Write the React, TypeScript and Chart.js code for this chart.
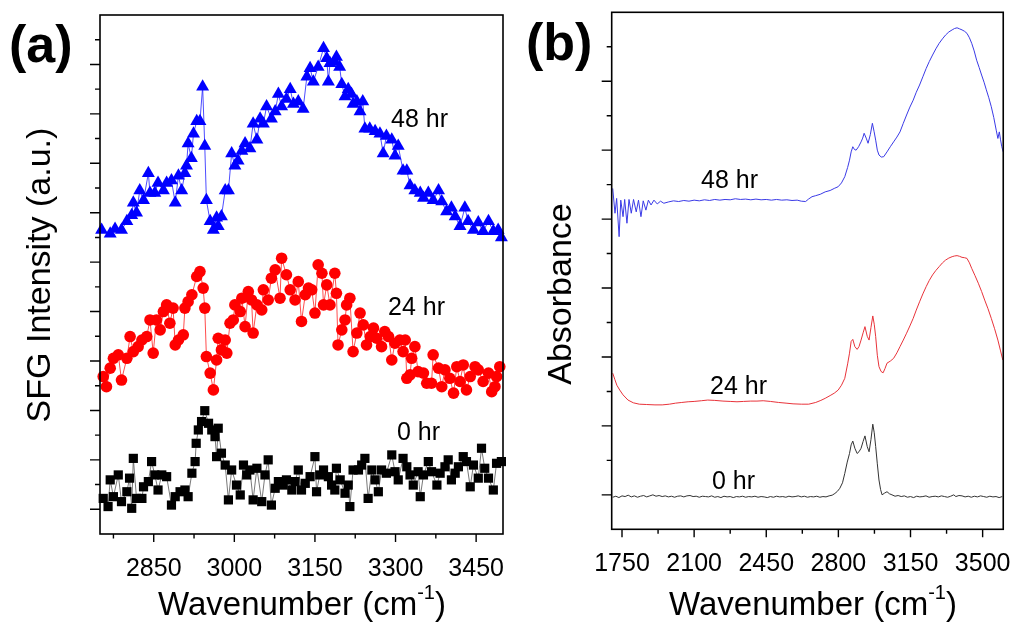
import React, { useEffect, useRef } from "react";
import { Chart, registerables } from "chart.js";

Chart.register(...registerables);

const FONT = "'Liberation Sans', Arial, Helvetica, sans-serif";

// ---------------- Panel (a): SFG spectra ----------------
const SFG_48_WN = [2753, 2769, 2778, 2790, 2800, 2809, 2812, 2818, 2824, 2831, 2840, 2843, 2852, 2858, 2868, 2874, 2883, 2890, 2896, 2902, 2908, 2911, 2914, 2920, 2924, 2930, 2936, 2941, 2945, 2948, 2955, 2961, 2967, 2970, 2976, 2983, 2989, 2995, 3001, 3007, 3014, 3020, 3029, 3035, 3042, 3048, 3054, 3060, 3069, 3076, 3082, 3088, 3097, 3104, 3110, 3119, 3128, 3135, 3141, 3147, 3156, 3166, 3172, 3175, 3178, 3187, 3190, 3196, 3200, 3206, 3212, 3218, 3221, 3228, 3234, 3239, 3243, 3252, 3262, 3271, 3277, 3283, 3293, 3299, 3305, 3314, 3321, 3327, 3336, 3346, 3352, 3361, 3370, 3380, 3386, 3395, 3404, 3411, 3420, 3429, 3435, 3445, 3454, 3463, 3473, 3482, 3491, 3497];
const SFG_48_I = [12.3, 12.15, 12.34, 12.3, 12.65, 12.9, 13.4, 13.0, 13.9, 13.5, 14.6, 13.8, 13.8, 14.2, 13.9, 14.2, 14.3, 13.4, 14.5, 13.9, 14.6, 14.9, 15.8, 15.2, 16.2, 16.7, 16.7, 18.1, 15.7, 13.5, 12.65, 12.3, 12.8, 12.45, 12.85, 13.9, 13.9, 15.4, 14.9, 15.1, 15.5, 15.8, 15.6, 16.6, 15.95, 16.8, 16.6, 17.3, 16.8, 17.1, 17.8, 17.3, 17.6, 18.0, 17.4, 17.5, 17.2, 18.5, 18.85, 18.3, 18.9, 19.65, 19.25, 18.3, 19.05, 19.1, 19.3, 18.9, 18.2, 17.7, 18.0, 17.8, 17.4, 17.5, 17.1, 17.5, 16.4, 16.4, 16.3, 16.2, 15.4, 16.1, 15.95, 15.3, 15.7, 14.7, 14.7, 14.1, 13.9, 13.8, 13.6, 13.8, 13.5, 13.9, 13.45, 13.05, 13.2, 12.85, 12.45, 13.2, 12.65, 12.3, 12.6, 12.25, 12.65, 12.25, 12.3, 12.0];

const SFG_24_WN = [2756, 2762, 2769, 2775, 2784, 2790, 2800, 2806, 2812, 2821, 2828, 2837, 2843, 2849, 2855, 2862, 2868, 2874, 2880, 2886, 2890, 2896, 2905, 2908, 2914, 2921, 2930, 2936, 2942, 2945, 2948, 2955, 2961, 2967, 2970, 2976, 2983, 2986, 2992, 2998, 3001, 3011, 3014, 3020, 3026, 3032, 3035, 3042, 3051, 3054, 3063, 3069, 3076, 3085, 3088, 3097, 3104, 3113, 3119, 3125, 3132, 3138, 3144, 3150, 3156, 3163, 3166, 3172, 3178, 3187, 3190, 3193, 3200, 3206, 3209, 3215, 3221, 3228, 3234, 3240, 3246, 3253, 3259, 3265, 3274, 3280, 3287, 3293, 3299, 3308, 3314, 3318, 3321, 3327, 3330, 3336, 3342, 3352, 3358, 3367, 3370, 3380, 3386, 3392, 3401, 3408, 3414, 3420, 3426, 3432, 3439, 3448, 3454, 3463, 3473, 3479, 3485, 3488, 3494];
const SFG_24_I = [6.37, 5.96, 6.71, 7.11, 7.25, 6.23, 7.11, 7.99, 7.38, 7.58, 7.85, 7.99, 8.66, 7.32, 8.66, 8.26, 9.0, 9.27, 8.53, 9.14, 7.65, 7.85, 8.06, 9.14, 9.4, 9.68, 10.42, 10.62, 9.95, 9.14, 7.18, 6.51, 5.83, 7.04, 7.92, 7.45, 7.85, 7.32, 8.53, 8.66, 9.27, 9.0, 9.54, 8.39, 9.81, 9.47, 8.13, 9.27, 9.07, 9.88, 9.47, 10.35, 10.69, 9.54, 11.16, 10.49, 9.88, 9.47, 10.21, 8.6, 9.68, 9.95, 9.88, 8.94, 10.89, 10.55, 9.27, 10.08, 9.27, 10.55, 9.74, 7.65, 8.26, 8.66, 9.27, 9.54, 7.38, 8.13, 8.94, 8.46, 7.65, 7.99, 8.33, 7.92, 7.58, 8.19, 7.99, 7.04, 7.72, 7.85, 7.38, 7.85, 6.3, 6.44, 7.11, 7.58, 6.57, 6.51, 6.1, 6.1, 7.25, 6.71, 5.96, 6.64, 6.3, 5.7, 6.77, 6.17, 6.84, 5.83, 6.37, 6.77, 6.64, 6.17, 6.51, 5.76, 5.96, 6.37, 6.77];

const SFG_0_WN = [2756, 2765, 2769, 2775, 2784, 2790, 2800, 2805, 2809, 2812, 2818, 2828, 2831, 2840, 2846, 2852, 2858, 2865, 2874, 2883, 2890, 2899, 2908, 2914, 2921, 2927, 2929, 2933, 2939, 2945, 2952, 2958, 2964, 2967, 2970, 2976, 2983, 2989, 2995, 3004, 3011, 3017, 3023, 3029, 3035, 3042, 3051, 3057, 3063, 3069, 3076, 3082, 3091, 3097, 3107, 3113, 3119, 3125, 3132, 3141, 3150, 3153, 3159, 3166, 3175, 3181, 3187, 3190, 3197, 3206, 3212, 3215, 3221, 3231, 3237, 3243, 3249, 3256, 3262, 3268, 3274, 3283, 3293, 3299, 3305, 3314, 3321, 3327, 3333, 3342, 3346, 3352, 3361, 3367, 3377, 3383, 3392, 3398, 3404, 3411, 3417, 3426, 3432, 3439, 3445, 3454, 3460, 3466, 3473, 3482, 3488, 3497];
const SFG_0_I = [1.44, 1.11, 2.19, 1.51, 2.39, 1.31, 1.71, 2.26, 1.04, 3.06, 1.44, 1.44, 1.91, 2.12, 2.93, 2.39, 1.78, 2.39, 2.32, 1.17, 1.51, 1.71, 1.78, 1.51, 2.46, 2.93, 3.67, 4.21, 4.55, 4.99, 4.48, 4.21, 3.94, 3.13, 4.28, 3.27, 2.79, 1.38, 2.59, 1.98, 1.58, 2.79, 2.39, 2.59, 1.38, 2.66, 1.31, 2.39, 3.0, 1.17, 1.85, 2.12, 1.98, 2.19, 1.78, 2.12, 2.59, 1.78, 2.05, 2.32, 3.13, 1.71, 2.39, 2.59, 2.32, 1.98, 1.78, 2.66, 2.19, 1.65, 1.98, 1.11, 2.59, 2.59, 2.79, 3.06, 1.44, 2.59, 2.19, 1.71, 2.59, 2.46, 3.2, 2.52, 2.19, 3.06, 2.72, 2.39, 1.98, 2.52, 1.51, 2.39, 2.93, 2.52, 1.98, 2.46, 2.72, 3.0, 2.19, 2.46, 2.72, 3.13, 2.93, 1.91, 2.79, 2.26, 3.47, 2.66, 2.26, 1.78, 2.86, 2.93];

const A_X_MIN = 2750;
const A_X_MAX = 3500;
const A_X_MAJOR = [2850, 3000, 3150, 3300, 3450];
const A_X_MINOR = [2775, 2925, 3075, 3225, 3375];
const A_Y_MAX = 21;
const A_Y_MAJOR = [1, 3, 5, 7, 9, 11, 13, 15, 17, 19];
const A_Y_MINOR = [2, 4, 6, 8, 10, 12, 14, 16, 18, 20];

// ---------------- Panel (b): IR absorbance ----------------
const IR_48_WN = [1705, 1716, 1724, 1736, 1744, 1755, 1763, 1774, 1784, 1795, 1806, 1819, 1830, 1842, 1853, 1866, 1878, 1891, 1905, 1921, 1937, 1953, 1977, 2000, 2025, 2050, 2075, 2100, 2125, 2150, 2175, 2200, 2225, 2250, 2275, 2300, 2325, 2350, 2375, 2400, 2425, 2450, 2475, 2500, 2525, 2550, 2575, 2600, 2620, 2641, 2655, 2672, 2690, 2712, 2736, 2760, 2780, 2799, 2815, 2831, 2845, 2854, 2862, 2870, 2878, 2886, 2898, 2910, 2918, 2925, 2935, 2944, 2955, 2965, 2973, 2981, 2989, 2997, 3008, 3020, 3036, 3052, 3068, 3084, 3099, 3115, 3131, 3147, 3163, 3178, 3194, 3210, 3226, 3241, 3257, 3273, 3289, 3305, 3320, 3336, 3352, 3364, 3376, 3388, 3400, 3412, 3424, 3436, 3447, 3459, 3471, 3483, 3495, 3507, 3518, 3530, 3542, 3554, 3566, 3574, 3581, 3587, 3593, 3600];
const IR_48_A = [9.89, 9.17, 9.6, 8.49, 9.55, 9.07, 9.57, 8.88, 9.57, 9.17, 9.57, 9.21, 9.55, 9.07, 9.53, 9.26, 9.55, 9.41, 9.55, 9.44, 9.52, 9.46, 9.5, 9.53, 9.51, 9.54, 9.52, 9.55, 9.53, 9.56, 9.54, 9.57, 9.55, 9.57, 9.56, 9.59, 9.57, 9.58, 9.56, 9.58, 9.56, 9.57, 9.55, 9.57, 9.55, 9.56, 9.54, 9.55, 9.52, 9.51, 9.58, 9.65, 9.68, 9.72, 9.79, 9.83, 9.89, 9.94, 10.05, 10.23, 10.5, 10.71, 10.95, 11.1, 11.02, 11.0, 11.1, 11.24, 11.35, 11.49, 11.35, 11.2, 11.45, 11.78, 11.55, 11.29, 11.0, 10.86, 10.8, 10.81, 10.95, 11.1, 11.24, 11.38, 11.53, 11.78, 12.02, 12.25, 12.45, 12.68, 12.89, 13.13, 13.37, 13.57, 13.76, 13.94, 14.1, 14.23, 14.34, 14.43, 14.49, 14.53, 14.55, 14.52, 14.49, 14.45, 14.39, 14.26, 14.1, 13.88, 13.61, 13.4, 13.18, 12.97, 12.75, 12.52, 12.26, 11.95, 11.58, 11.34, 11.53, 11.3, 11.1, 10.95];

const IR_24_WN = [1705, 1715, 1725, 1739, 1755, 1779, 1805, 1834, 1870, 1910, 1945, 1980, 2010, 2040, 2071, 2100, 2135, 2166, 2200, 2240, 2275, 2308, 2340, 2375, 2405, 2435, 2470, 2510, 2546, 2580, 2620, 2656, 2690, 2715, 2736, 2760, 2780, 2799, 2815, 2831, 2845, 2854, 2862, 2870, 2880, 2891, 2900, 2910, 2920, 2929, 2940, 2949, 2958, 2967, 2974, 2981, 2989, 2997, 3007, 3017, 3026, 3036, 3052, 3068, 3084, 3099, 3115, 3131, 3147, 3163, 3178, 3194, 3210, 3226, 3241, 3257, 3273, 3289, 3305, 3320, 3336, 3352, 3364, 3376, 3388, 3400, 3412, 3424, 3436, 3447, 3463, 3479, 3495, 3510, 3526, 3542, 3558, 3574, 3586, 3598];
const IR_24_A = [4.53, 4.35, 4.18, 4.04, 3.9, 3.75, 3.67, 3.63, 3.62, 3.61, 3.61, 3.63, 3.66, 3.68, 3.7, 3.71, 3.73, 3.75, 3.74, 3.72, 3.71, 3.7, 3.71, 3.72, 3.72, 3.73, 3.71, 3.68, 3.66, 3.64, 3.63, 3.63, 3.68, 3.74, 3.8, 3.88, 3.95, 4.04, 4.18, 4.38, 4.8, 5.11, 5.45, 5.51, 5.3, 5.22, 5.3, 5.49, 5.7, 5.88, 5.6, 5.49, 5.85, 6.19, 5.95, 5.59, 5.05, 4.72, 4.58, 4.54, 4.66, 4.82, 4.88, 4.96, 5.12, 5.3, 5.49, 5.69, 5.9, 6.12, 6.36, 6.6, 6.83, 7.04, 7.22, 7.38, 7.51, 7.62, 7.73, 7.81, 7.87, 7.91, 7.93, 7.94, 7.92, 7.89, 7.88, 7.86, 7.73, 7.57, 7.36, 7.14, 6.9, 6.65, 6.4, 6.12, 5.82, 5.49, 5.2, 4.91];

const IR_0_WN = [1705, 1720, 1735, 1750, 1765, 1780, 1795, 1810, 1825, 1840, 1855, 1870, 1885, 1900, 1915, 1930, 1945, 1960, 1975, 1990, 2005, 2020, 2035, 2050, 2065, 2080, 2095, 2110, 2125, 2140, 2155, 2170, 2185, 2200, 2215, 2230, 2245, 2260, 2275, 2290, 2305, 2320, 2335, 2350, 2365, 2380, 2395, 2410, 2425, 2440, 2455, 2470, 2485, 2500, 2515, 2530, 2545, 2560, 2575, 2590, 2605, 2620, 2635, 2650, 2665, 2680, 2695, 2710, 2725, 2740, 2755, 2770, 2783, 2795, 2807, 2820, 2831, 2843, 2854, 2862, 2870, 2880, 2891, 2900, 2910, 2920, 2929, 2940, 2949, 2958, 2967, 2974, 2981, 2989, 2997, 3005, 3012, 3024, 3036, 3048, 3060, 3075, 3090, 3105, 3120, 3135, 3150, 3165, 3180, 3195, 3210, 3225, 3240, 3255, 3270, 3285, 3300, 3315, 3330, 3345, 3360, 3370, 3385, 3400, 3415, 3430, 3445, 3460, 3475, 3490, 3505, 3520, 3535, 3550, 3565, 3580, 3595];
const IR_0_A = [0.93, 0.96, 0.92, 0.97, 0.95, 0.99, 0.94, 0.97, 0.93, 0.96, 0.98, 0.94, 0.97, 1.0, 0.96, 0.98, 0.95, 0.97, 0.94, 0.96, 0.93, 0.96, 0.97, 0.94, 0.97, 0.98, 0.95, 0.96, 0.93, 0.96, 0.95, 0.94, 0.97, 0.93, 0.95, 0.92, 0.96, 0.94, 0.95, 0.92, 0.95, 0.94, 0.96, 0.93, 0.95, 0.94, 0.96, 0.93, 0.95, 0.94, 0.92, 0.95, 0.93, 0.96, 0.94, 0.95, 0.93, 0.96, 0.94, 0.95, 0.97, 0.94, 0.96, 0.93, 0.95, 0.94, 0.96, 0.93, 0.95, 0.94, 0.97, 0.99, 1.04, 1.1, 1.19, 1.35, 1.62, 1.95, 2.2, 2.45, 2.56, 2.35, 2.2, 2.25, 2.35, 2.55, 2.71, 2.4, 2.25, 2.6, 3.05, 2.8, 2.4, 1.9, 1.43, 1.15, 1.0, 1.05, 1.09, 1.03, 1.0, 0.96, 0.98, 0.95, 0.97, 0.93, 0.95, 0.92, 0.96, 0.94, 0.95, 0.97, 0.93, 0.95, 0.96, 0.94, 0.97, 0.95, 0.93, 0.96, 1.0, 0.95, 0.98, 0.97, 0.94, 0.96, 0.93, 0.96, 0.94, 0.97, 0.95, 0.93, 0.96, 0.94, 0.95, 0.92, 0.95];

const B_X_MIN = 1700;
const B_X_MAX = 3600;
const B_X_MAJOR = [1750, 2100, 2450, 2800, 3150, 3500];
const B_X_MINOR = [1925, 2275, 2625, 2975, 3325];
const B_Y_MAX = 15;
const B_Y_MAJOR = [1, 3, 5, 7, 9, 11, 13];
const B_Y_MINOR = [2, 4, 6, 8, 10, 12, 14];

const SERIES_LABELS = ["48 hr", "24 hr", "0 hr"];

const pts = (xs: number[], ys: number[]) => xs.map((x, i) => ({ x, y: ys[i] }));

type Note = { text: string; x: number; y: number };
type Decor = {
  xMajor: number[];
  xMinor: number[];
  yMajor: number[];
  yMinor: number[];
  notes: Note[];
  panel: { text: string; x: number; y: number };
  yTitle: { text: string; x: number; y: number; size: number };
  xTitleCx: number;
  xTitleBase: number;
};

function decorPlugin(d: Decor) {
  return {
    id: "decor",
    afterDraw(chart: any) {
      const ctx = chart.ctx as CanvasRenderingContext2D;
      const { left, right, top, bottom } = chart.chartArea;
      const xs = chart.scales.x;
      const ys = chart.scales.y;
      ctx.save();
      ctx.strokeStyle = "#000";
      ctx.lineWidth = 1.6;
      ctx.strokeRect(left, top, right - left, bottom - top);
      ctx.lineWidth = 1.4;
      ctx.beginPath();
      d.xMajor.forEach((v) => {
        const p = xs.getPixelForValue(v);
        ctx.moveTo(p, bottom);
        ctx.lineTo(p, bottom + 8);
      });
      d.xMinor.forEach((v) => {
        const p = xs.getPixelForValue(v);
        ctx.moveTo(p, bottom);
        ctx.lineTo(p, bottom + 4.5);
      });
      d.yMajor.forEach((v) => {
        const p = ys.getPixelForValue(v);
        ctx.moveTo(left, p);
        ctx.lineTo(left - 10, p);
      });
      d.yMinor.forEach((v) => {
        const p = ys.getPixelForValue(v);
        ctx.moveTo(left, p);
        ctx.lineTo(left - 5, p);
      });
      ctx.stroke();

      ctx.fillStyle = "#000";
      ctx.textAlign = "left";
      ctx.textBaseline = "alphabetic";
      ctx.font = `25px ${FONT}`;
      d.notes.forEach((n) => ctx.fillText(n.text, n.x, n.y));

      ctx.font = `bold 52px ${FONT}`;
      ctx.fillText(d.panel.text, d.panel.x, d.panel.y);

      ctx.save();
      ctx.translate(d.yTitle.x, d.yTitle.y);
      ctx.rotate(-Math.PI / 2);
      ctx.font = `${d.yTitle.size}px ${FONT}`;
      ctx.textAlign = "center";
      ctx.textBaseline = "middle";
      ctx.fillText(d.yTitle.text, 0, 0);
      ctx.restore();

      const main = "Wavenumber (cm";
      const sup = "-1";
      const tail = ")";
      const big = `33px ${FONT}`;
      const small = `20px ${FONT}`;
      ctx.font = big;
      const w1 = ctx.measureText(main).width;
      const w3 = ctx.measureText(tail).width;
      ctx.font = small;
      const w2 = ctx.measureText(sup).width;
      let x = d.xTitleCx - (w1 + w2 + w3) / 2;
      ctx.textAlign = "left";
      ctx.textBaseline = "alphabetic";
      ctx.font = big;
      ctx.fillText(main, x, d.xTitleBase);
      x += w1;
      ctx.font = small;
      ctx.fillText(sup, x, d.xTitleBase - 16);
      x += w2;
      ctx.font = big;
      ctx.fillText(tail, x, d.xTitleBase);
      ctx.restore();
    },
  };
}

function baseOptions(
  xMin: number,
  xMax: number,
  xMajor: number[],
  yMax: number,
  yWidth: number,
  xHeight: number,
  padding: any
) {
  return {
    responsive: false,
    maintainAspectRatio: false,
    animation: false as const,
    devicePixelRatio: 1,
    layout: { padding },
    plugins: { legend: { display: false }, tooltip: { enabled: false } },
    scales: {
      x: {
        type: "linear" as const,
        min: xMin,
        max: xMax,
        grid: { display: false },
        border: { display: false },
        afterBuildTicks: (scale: any) => {
          scale.ticks = xMajor.map((v) => ({ value: v }));
        },
        afterFit: (scale: any) => {
          scale.height = xHeight;
        },
        ticks: {
          color: "#000",
          padding: 12,
          maxRotation: 0,
          autoSkip: false,
          font: { family: FONT, size: 25 },
          callback: (v: any) => String(v),
        },
      },
      y: {
        type: "linear" as const,
        min: 0,
        max: yMax,
        grid: { display: false },
        border: { display: false },
        ticks: { display: false, stepSize: 1 },
        afterFit: (scale: any) => {
          scale.width = yWidth;
        },
      },
    },
  };
}

function PanelA() {
  const ref = useRef<HTMLCanvasElement>(null);
  useEffect(() => {
    if (!ref.current) return;
    const chart = new Chart(ref.current, {
      type: "line",
      data: {
        datasets: [
          {
            label: SERIES_LABELS[0],
            data: pts(SFG_48_WN, SFG_48_I),
            borderColor: "#2020ff",
            borderWidth: 0.8,
            backgroundColor: "#0000ff",
            pointStyle: "triangle",
            pointRadius: 7.5,
            pointBorderWidth: 0,
            pointBackgroundColor: "#0000ff",
            clip: false as any,
          },
          {
            label: SERIES_LABELS[1],
            data: pts(SFG_24_WN, SFG_24_I),
            borderColor: "#ff2020",
            borderWidth: 0.8,
            backgroundColor: "#ff0000",
            pointStyle: "circle",
            pointRadius: 5.8,
            pointBorderWidth: 0,
            pointBackgroundColor: "#ff0000",
            clip: false as any,
          },
          {
            label: SERIES_LABELS[2],
            data: pts(SFG_0_WN, SFG_0_I),
            borderColor: "#555555",
            borderWidth: 0.8,
            backgroundColor: "#000000",
            pointStyle: "rect",
            pointRadius: 6.5,
            pointBorderWidth: 0,
            pointBackgroundColor: "#000000",
            clip: false as any,
          },
        ],
      },
      options: baseOptions(A_X_MIN, A_X_MAX, A_X_MAJOR, A_Y_MAX, 100, 91, {
        left: 0,
        right: 17,
        top: 15,
        bottom: 0,
      }) as any,
      plugins: [
        decorPlugin({
          xMajor: A_X_MAJOR,
          xMinor: A_X_MINOR,
          yMajor: A_Y_MAJOR,
          yMinor: A_Y_MINOR,
          notes: [
            { text: SERIES_LABELS[0], x: 391, y: 127 },
            { text: SERIES_LABELS[1], x: 388, y: 315 },
            { text: SERIES_LABELS[2], x: 397, y: 440 },
          ],
          panel: { text: "(a)", x: 9, y: 62 },
          yTitle: { text: "SFG Intensity (a.u.)", x: 41, y: 275, size: 34 },
          xTitleCx: 302,
          xTitleBase: 615,
        }) as any,
      ],
    });
    return () => chart.destroy();
  }, []);
  return <canvas ref={ref} width={520} height={625} style={{ display: "block" }} />;
}

function PanelB() {
  const ref = useRef<HTMLCanvasElement>(null);
  useEffect(() => {
    if (!ref.current) return;
    const common = { pointRadius: 0, borderWidth: 1, tension: 0 };
    const chart = new Chart(ref.current, {
      type: "line",
      data: {
        datasets: [
          { label: SERIES_LABELS[0], data: pts(IR_48_WN, IR_48_A), borderColor: "#3a3ae6", ...common },
          { label: SERIES_LABELS[1], data: pts(IR_24_WN, IR_24_A), borderColor: "#e8333a", ...common },
          { label: SERIES_LABELS[2], data: pts(IR_0_WN, IR_0_A), borderColor: "#333333", ...common },
        ],
      },
      options: baseOptions(B_X_MIN, B_X_MAX, B_X_MAJOR, B_Y_MAX, 91.7, 95.7, {
        left: 0,
        right: 10.7,
        top: 12.3,
        bottom: 0,
      }) as any,
      plugins: [
        decorPlugin({
          xMajor: B_X_MAJOR,
          xMinor: B_X_MINOR,
          yMajor: B_Y_MAJOR,
          yMinor: B_Y_MINOR,
          notes: [
            { text: SERIES_LABELS[0], x: 181, y: 188 },
            { text: SERIES_LABELS[1], x: 190, y: 394 },
            { text: SERIES_LABELS[2], x: 192, y: 489 },
          ],
          panel: { text: "(b)", x: 6, y: 60 },
          yTitle: { text: "Absorbance", x: 42, y: 294, size: 34 },
          xTitleCx: 293,
          xTitleBase: 615,
        }) as any,
      ],
    });
    return () => chart.destroy();
  }, []);
  return <canvas ref={ref} width={503} height={625} style={{ display: "block" }} />;
}

export default function App() {
  return (
    <div
      style={{
        position: "fixed",
        left: 0,
        top: 0,
        width: 1023,
        height: 625,
        background: "#fff",
        overflow: "hidden",
      }}
    >
      <div style={{ position: "absolute", left: 0, top: 0 }}>
        <PanelA />
      </div>
      <div style={{ position: "absolute", left: 520, top: 0 }}>
        <PanelB />
      </div>
    </div>
  );
}
